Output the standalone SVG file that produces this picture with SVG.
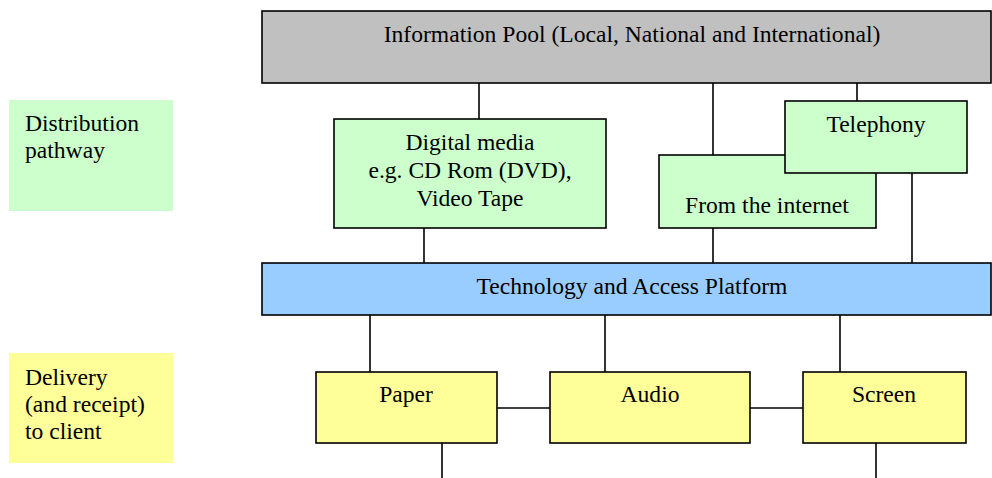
<svg xmlns="http://www.w3.org/2000/svg" width="992" height="478" viewBox="0 0 992 478">
<style>
text{font-family:"Liberation Serif","Times New Roman",serif;font-size:23.6px;fill:#000}
.c{text-anchor:middle}
.box{stroke:#000;stroke-width:1.6}
.conn line{stroke:#000;stroke-width:1.6}
</style>
<rect width="992" height="478" fill="#fff"/>
<g id="legend-distribution">
<rect x="9" y="100" width="164" height="111" fill="#ccffcc"/>
<text x="25" y="131">Distribution</text>
<text x="25" y="158">pathway</text>
</g>
<g id="legend-delivery">
<rect x="9" y="353" width="164" height="110" fill="#ffff99"/>
<text x="25" y="385">Delivery</text>
<text x="25" y="412">(and receipt)</text>
<text x="25" y="439">to client</text>
</g>
<g class="conn" id="connectors">
<line x1="479" y1="83" x2="479" y2="119"/>
<line x1="713" y1="83" x2="713" y2="155"/>
<line x1="857" y1="83" x2="857" y2="101"/>
<line x1="424" y1="228" x2="424" y2="263"/>
<line x1="713" y1="228" x2="713" y2="263"/>
<line x1="912" y1="173" x2="912" y2="263"/>
<line x1="370" y1="315" x2="370" y2="372"/>
<line x1="605" y1="315" x2="605" y2="372"/>
<line x1="840" y1="315" x2="840" y2="372"/>
<line x1="497" y1="408" x2="550" y2="408"/>
<line x1="750" y1="408" x2="803" y2="408"/>
<line x1="442" y1="443" x2="442" y2="478"/>
<line x1="876" y1="443" x2="876" y2="478"/>
</g>
<g id="information-pool">
<rect class="box" x="262" y="11" width="729" height="72" fill="#c0c0c0"/>
<text class="c" x="632" y="42">Information Pool (Local, National and International)</text>
</g>
<g id="digital-media">
<rect class="box" x="334" y="119" width="272" height="109" fill="#ccffcc"/>
<text class="c" x="470" y="150">Digital media</text>
<text class="c" x="470" y="178">e.g. CD Rom (DVD),</text>
<text class="c" x="470" y="206">Video Tape</text>
</g>
<g id="internet">
<rect class="box" x="659" y="155" width="217" height="73" fill="#ccffcc"/>
<text class="c" x="767" y="213">From the internet</text>
</g>
<g id="telephony">
<rect class="box" x="785" y="101" width="182" height="72" fill="#ccffcc"/>
<text class="c" x="876" y="132">Telephony</text>
</g>
<g id="technology-platform">
<rect class="box" x="262" y="263" width="729" height="52" fill="#99ccff"/>
<text class="c" x="632" y="294">Technology and Access Platform</text>
</g>
<g id="paper">
<rect class="box" x="316" y="372" width="181" height="71" fill="#ffff99"/>
<text class="c" x="406" y="402">Paper</text>
</g>
<g id="audio">
<rect class="box" x="550" y="372" width="200" height="71" fill="#ffff99"/>
<text class="c" x="650" y="402">Audio</text>
</g>
<g id="screen">
<rect class="box" x="803" y="372" width="163" height="71" fill="#ffff99"/>
<text class="c" x="884" y="402">Screen</text>
</g>
</svg>
